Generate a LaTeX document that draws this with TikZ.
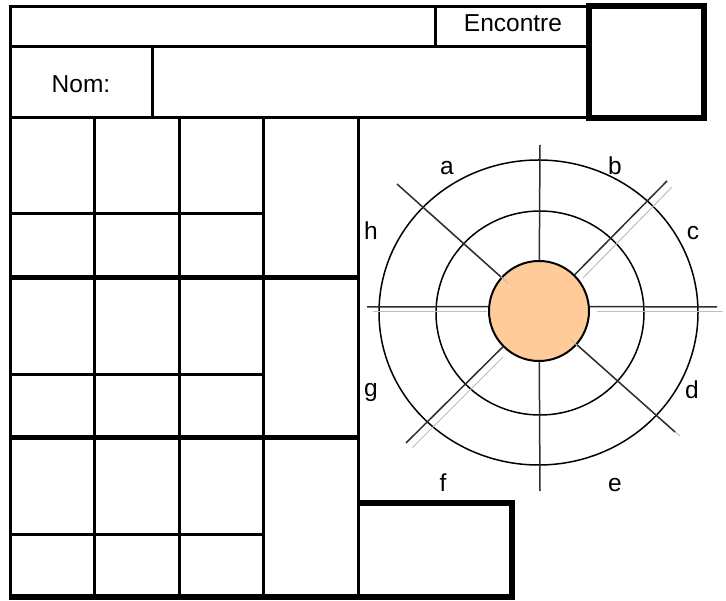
\documentclass[tikz,border=0pt]{standalone}
\usepackage{fontspec}
\setmainfont{Liberation Sans}
\usepackage{tikz}
\usetikzlibrary{positioning,calc}
\usepackage{xcolor}
\definecolor{hubpeach}{RGB}{255,204,153}
\definecolor{spokegray}{RGB}{45,45,45}
\definecolor{ghostgray}{RGB}{190,190,190}

\begin{document}
\begin{tikzpicture}[x=1pt, y=-1pt,
    rule/.style={line width=3pt},
    heavy/.style={line width=5pt},
    frame/.style={line width=6pt},
    ring/.style={line width=1.5pt},
    spoke/.style={spokegray, line width=1.5pt},
    ghost/.style={ghostgray, line width=1pt},
    lbl/.style={font=\fontsize{24.5}{29}\selectfont, anchor=base, inner sep=0pt}
]
\useasboundingbox (0,0) rectangle (726,601);

% Title block
\draw[rule] (10,7) -- (589,7);
\draw[rule] (10,47) -- (589,47);
\draw[rule] (435,7) -- (435,47);
\draw[rule] (152,47) -- (152,118);
\draw[rule] (10,118) -- (589,118);
\draw[frame] (589,6) rectangle (704,118);
\node[lbl] (encontre) at (513,32) {Encontre};
\node[lbl] (nom) at (81,93) {Nom:};

% Score grid
\draw[rule] (10,5.5) -- (10,597);
\draw[rule] (358,118) -- (358,597);
\foreach \ya/\yb/\yc in {118/214/278, 278/375/438, 438/534/597} {
  \draw[rule] (10,\yb) -- (263,\yb);
  \foreach \xc in {94,179,263}
    \draw[rule] (\xc,\ya) -- (\xc,\yc);
}
\draw[heavy] (10,278) -- (358,278);
\draw[heavy] (10,438) -- (358,438);
\draw[frame] (8.5,597) -- (512,597) -- (512,503) -- (358,503);

% Target wheel
\draw[ring] (538.5,312.5) ellipse [x radius=159.5pt, y radius=152.5pt];
\draw[ring] (540,313) ellipse [x radius=104pt, y radius=102pt];
\draw[ghost] (373,312) -- (487,312);
\draw[ghost] (597,312) -- (723,312);
\draw[ghost] (672,187) -- (583,278);
\draw[ghost] (503,357) -- (412,448);

\node[circle, draw, line width=2pt, fill=hubpeach, minimum size=100pt,
      inner sep=0pt] (hub) at (539,311) {};

\coordinate (nTip) at (540,145);
\coordinate (sTip) at (540,491);
\coordinate (wTip) at (367,307);
\coordinate (eTip) at (717,307);
\coordinate (neTip) at (667,181);
\coordinate (swTip) at (406,443);
\coordinate (nwTip) at (397,184);
\coordinate (seTip) at (675,432);

\draw[ghost] (508,283) -- (430,213);
\draw[ghost] (570,339) -- (680,436);

\draw[spoke] (hub) -- (nTip);
\draw[spoke] (hub) -- (sTip);
\draw[spoke] (hub.175) -- (wTip);
\draw[spoke] (hub.5) -- (eTip);
\draw[spoke] (hub) -- (neTip);
\draw[spoke] (hub) -- (swTip);
\draw[spoke] (hub) -- (nwTip);
\draw[spoke] (hub) -- (seTip);

\node[lbl] (la) at (447,175) {a};
\node[lbl] (lb) at (615,175) {b};
\node[lbl] (lc) at (693,240) {c};
\node[lbl] (ld) at (692,399) {d};
\node[lbl] (le) at (615,492) {e};
\node[lbl] (lf) at (443,492) {f};
\node[lbl] (lg) at (371,397) {g};
\node[lbl] (lh) at (371,240) {h};

\end{tikzpicture}
\end{document}
